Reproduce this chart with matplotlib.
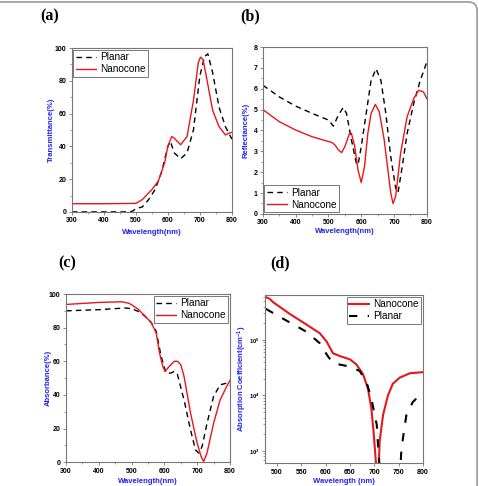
import numpy as np
import matplotlib
matplotlib.use("Agg")
from matplotlib import pyplot as plt
from matplotlib.patches import FancyBboxPatch
from matplotlib.ticker import MultipleLocator, LogLocator, NullFormatter

# (a) 透射率
a_wl_nano = [300, 400, 500, 520, 550, 570, 590, 600, 612, 620, 640, 660, 680, 695, 702, 710, 720, 740, 760, 780, 790, 800]
a_nano = [5, 5, 5.2, 7.5, 13.6, 18.7, 30, 40, 46, 45, 41, 46, 68, 91, 94.5, 93, 83, 62, 52, 47, 48, 48.6]
a_wl_planar = [300, 400, 480, 490, 500, 520, 540, 560, 580, 590, 600, 608, 620, 640, 660, 680, 700, 715, 725, 740, 760, 780, 800]
a_planar = [0, 0, 0, 0.5, 2, 3, 7.5, 13.6, 24, 32, 40, 43, 36, 32.5, 36, 50, 83, 95, 96.5, 85, 64, 52, 44.5]

# (b) 反射率
b_wl_nano = [300, 350, 400, 450, 500, 510, 520, 530, 540, 550, 565, 570, 580, 590, 600, 610, 620, 630, 643, 655, 670, 680, 690, 697, 705, 720, 740, 760, 775, 790, 800]
b_nano = [5.0, 4.42, 4.02, 3.7, 3.47, 3.43, 3.3, 3.07, 2.94, 3.23, 3.9, 3.86, 3.23, 2.11, 1.5, 2.27, 3.86, 4.82, 5.25, 4.9, 3.55, 2.27, 1.0, 0.49, 0.84, 2.9, 4.66, 5.53, 5.93, 5.85, 5.53]
b_wl_planar = [300, 350, 400, 450, 500, 515, 530, 545, 555, 570, 585, 590, 600, 615, 630, 645, 660, 675, 690, 705, 712, 725, 740, 760, 780, 800]
b_planar = [6.17, 5.61, 5.17, 4.82, 4.5, 4.21, 4.74, 5.1, 4.82, 3.55, 2.43, 2.35, 3.23, 4.82, 6.4, 6.96, 6.4, 4.82, 2.75, 1.24, 1.0, 2.27, 3.86, 5.29, 6.4, 7.28]

# (c) 吸收率
c_wl_nano = [300, 400, 470, 490, 500, 520, 540, 560, 575, 585, 595, 602, 615, 630, 640, 650, 660, 680, 700, 712, 720, 730, 750, 770, 790, 800]
c_nano = [93.8, 95, 95.4, 94.6, 93.6, 91, 87, 83, 76.8, 65, 57, 54, 57, 60, 60, 58, 51, 29, 11.3, 3.4, 0.4, 5.4, 23, 37, 45, 48.6]
c_wl_planar = [300, 400, 480, 500, 520, 540, 560, 575, 590, 605, 620, 630, 640, 660, 680, 695, 705, 715, 730, 750, 770, 790, 800]
c_planar = [90, 90.7, 91.7, 91.3, 89.7, 87, 83, 77.8, 62.9, 53, 53, 54, 52, 37, 19, 7.3, 5.4, 9.3, 23, 39, 46, 47, 45.4]

# (d) 吸收系数 (log10)
d_wl_nano = [475, 485, 492, 526, 560, 588, 602, 615, 629, 650, 663, 677, 687, 694, 699, 703, 706, 708, 711, 718, 728, 738, 752, 773, 800]
d_nano_log = [5.78, 5.74, 5.68, 5.47, 5.28, 5.12, 4.97, 4.76, 4.71, 4.65, 4.56, 4.38, 4.12, 3.76, 3.29, 2.82, 2.5, 2.5, 3.18, 3.65, 4.0, 4.21, 4.32, 4.4, 4.42]
d_wl_planar = [477, 513, 560, 588, 602, 615, 650, 670, 684, 694, 705, 708, 710, 712]
d_planar_log = [5.56, 5.38, 5.15, 4.94, 4.74, 4.58, 4.52, 4.44, 4.24, 3.94, 3.47, 3.06, 2.82, 2.5]
d_wl_planar2 = [753, 755, 759, 766, 779, 800]
d_planar2_log = [2.5, 2.94, 3.24, 3.65, 3.88, 4.06]

BLUE = "#2222ee"
SPINE = "#777777"
plt.rcParams["font.family"] = ["Liberation Sans", "DejaVu Sans"]
plt.rcParams["mathtext.fontset"] = "custom"
plt.rcParams["mathtext.rm"] = "Liberation Sans:bold"
plt.rcParams["mathtext.default"] = "rm"

fig = plt.figure(figsize=(4.79, 4.86), dpi=100)

# 外框 (只露出上边和右边)
frame = FancyBboxPatch((-0.05, -0.05), 1.046, 1.046, boxstyle="round,pad=0,rounding_size=0.018",
                       transform=fig.transFigure, fill=False, edgecolor="#999999", linewidth=1.2)
fig.patches.append(frame)


def style_ax(ax, ylabel, xlabel, xl_y, yl_x):
    for s in ax.spines.values():
        s.set_color(SPINE)
        s.set_linewidth(0.8)
    ax.tick_params(axis="both", which="major", labelsize=5, length=2.5, width=0.6, pad=1.5, color=SPINE)
    ax.tick_params(axis="both", which="minor", length=1.5, width=0.5, color=SPINE)
    for lab in ax.get_xticklabels() + ax.get_yticklabels():
        lab.set_fontweight("bold")
    ax.set_xlabel(xlabel, fontsize=5.5, fontweight="bold", color=BLUE, va="center")
    ax.set_ylabel(ylabel, fontsize=5.5, fontweight="bold", color=BLUE, va="center")
    ax.xaxis.set_label_coords(0.5, xl_y)
    ax.yaxis.set_label_coords(yl_x, 0.5)


def legend(ax, handles, loc):
    leg = ax.legend(handles=handles, loc=loc, fontsize=7.2, frameon=True, fancybox=False,
                    handlelength=2.0, handletextpad=0.4, borderpad=0.25, labelspacing=0.2,
                    borderaxespad=0.15)
    leg.get_frame().set_edgecolor("#555555")
    leg.get_frame().set_linewidth(0.7)


# (a)
ax = fig.add_axes([0.150, 0.564, 0.334, 0.337])
hp, = ax.plot(a_wl_planar, a_planar, color="black", ls=(0, (4, 3)), lw=1.0, label="Planar")
hn, = ax.plot(a_wl_nano, a_nano, color="#e8161b", lw=1.0, label="Nanocone")
ax.set_xlim(300, 800)
ax.set_ylim(0, 100)
ax.xaxis.set_major_locator(MultipleLocator(100))
ax.xaxis.set_minor_locator(MultipleLocator(50))
ax.yaxis.set_major_locator(MultipleLocator(20))
ax.yaxis.set_minor_locator(MultipleLocator(10))
style_ax(ax, "Transmittance(%)", "Wavelength(nm)", -0.128, -0.125)
legend(ax, [hp, hn], "upper left")

# (b)
ax = fig.add_axes([0.549, 0.560, 0.342, 0.343])
hp, = ax.plot(b_wl_planar, b_planar, color="black", ls=(0, (4, 3)), lw=1.0, label="Planar")
hn, = ax.plot(b_wl_nano, b_nano, color="#e8161b", lw=1.0, label="Nanocone")
ax.set_xlim(300, 800)
ax.set_ylim(0, 8)
ax.xaxis.set_major_locator(MultipleLocator(100))
ax.xaxis.set_minor_locator(MultipleLocator(50))
ax.yaxis.set_major_locator(MultipleLocator(1))
ax.yaxis.set_minor_locator(MultipleLocator(0.5))
style_ax(ax, "Reflectance(%)", "Wavelength(nm)", -0.108, -0.104)
legend(ax, [hp, hn], "lower left")

# (c)
ax = fig.add_axes([0.138, 0.049, 0.342, 0.346])
hp, = ax.plot(c_wl_planar, c_planar, color="black", ls=(0, (4, 3)), lw=1.0, label="Planar")
hn, = ax.plot(c_wl_nano, c_nano, color="#e8161b", lw=1.0, label="Nanocone")
ax.set_xlim(300, 800)
ax.set_ylim(0, 100)
ax.xaxis.set_major_locator(MultipleLocator(100))
ax.xaxis.set_minor_locator(MultipleLocator(50))
ax.yaxis.set_major_locator(MultipleLocator(20))
ax.yaxis.set_minor_locator(MultipleLocator(10))
style_ax(ax, "Absorbance(%)", "Wavelength(nm)", -0.113, -0.11)
legend(ax, [hp, hn], "upper right")

# (d)
ax = fig.add_axes([0.553, 0.047, 0.330, 0.346])
hn, = ax.plot(d_wl_nano, 10 ** np.array(d_nano_log), color="#e8161b", lw=1.5, label="Nanocone")
hp, = ax.plot(d_wl_planar, 10 ** np.array(d_planar_log), color="black", ls=(0, (4, 5)), lw=1.5, label="Planar")
ax.plot(d_wl_planar2, 10 ** np.array(d_planar2_log), color="black", ls=(0, (4, 5)), lw=1.5)
ax.set_yscale("log")
ax.set_xlim(475, 800)
ax.set_ylim(10 ** 2.78, 10 ** 5.81)
ax.xaxis.set_major_locator(MultipleLocator(50))
ax.yaxis.set_major_locator(LogLocator(base=10, numticks=10))
ax.yaxis.set_minor_locator(LogLocator(base=10, subs=np.arange(2, 10) * 1.0, numticks=20))
ax.yaxis.set_minor_formatter(NullFormatter())
style_ax(ax, "Absorption Coefficient(cm$^{-1}$)", "Wavelength (nm)", -0.107, -0.145)
ax.tick_params(axis="y", which="major", labelsize=4.2, pad=1)
legend(ax, [hn, hp], "upper right")

# 面板标号
for x, y, t in [(0.104, 0.967, "(a)"), (0.522, 0.967, "(b)"), (0.140, 0.458, "(c)"), (0.585, 0.458, "(d)")]:
    fig.text(x, y, t, fontsize=11.5, fontweight="bold", family="Liberation Serif", ha="center", va="center")

plt.savefig("out.png", dpi=100)
plt.close()
